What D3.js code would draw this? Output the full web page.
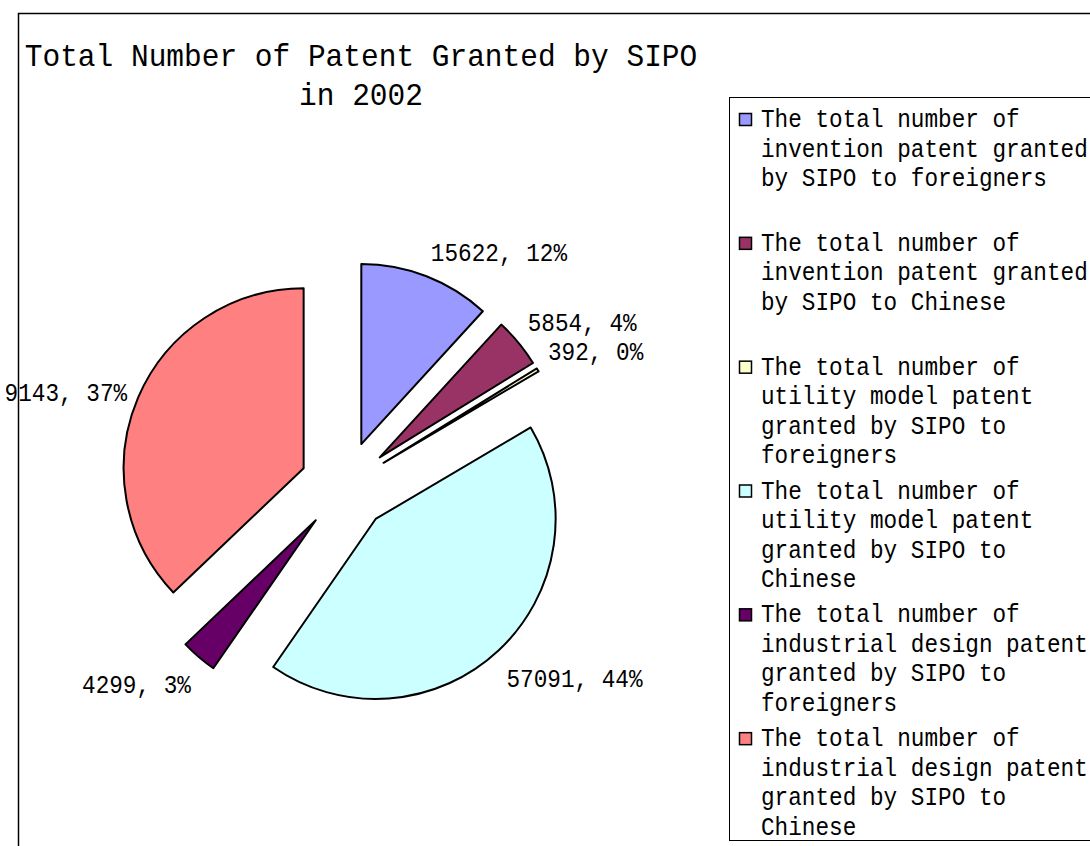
<!DOCTYPE html>
<html>
<head>
<meta charset="utf-8">
<script src="https://cdn.jsdelivr.net/npm/d3@7"></script>
<style>
  html, body { margin: 0; padding: 0; background: #fff; overflow: hidden; }
  svg { display: block; }
  text { font-family: "Liberation Mono", "DejaVu Sans Mono", monospace; fill: #000; }
</style>
</head>
<body>
<svg id="chart" width="1090" height="846"></svg>
<script>
// series
var categories = [
  "The total number of invention patent granted by SIPO to foreigners",
  "The total number of invention patent granted by SIPO to Chinese",
  "The total number of utility model patent granted by SIPO to foreigners",
  "The total number of utility model patent granted by SIPO to Chinese",
  "The total number of industrial design patent granted by SIPO to foreigners",
  "The total number of industrial design patent granted by SIPO to Chinese"
];
var values = [15622, 5854, 392, 57091, 4299, 49143];
var percentLabels = ["12%", "4%", "0%", "44%", "3%", "37%"];
var colors = ["#9999FF", "#993366", "#FFFFCC", "#CCFFFF", "#660066", "#FF8080"];
var titleLines = ["Total Number of Patent Granted by SIPO", "in 2002"];

var svg = d3.select("#chart");
var stretch = 1.15; // the original font is taller than Liberation Mono

svg.append("defs").append("clipPath").attr("id", "plotClip")
  .append("rect").attr("x", 6).attr("y", 0).attr("width", 1100).attr("height", 900);

// chart area border (runs off the page on the right / bottom)
svg.append("rect")
  .attr("x", 18.5).attr("y", 13.5)
  .attr("width", 1200).attr("height", 1000)
  .attr("fill", "#fff").attr("stroke", "#000").attr("stroke-width", 1.5);

// title
svg.append("g").selectAll("text")
  .data(titleLines)
  .join("text")
  .attr("transform", function(d, i) { return "translate(361," + (66 + i * 39) + ") scale(1,1.05)"; })
  .attr("text-anchor", "middle")
  .style("font-size", "29.5px")
  .text(function(d) { return d; });

// pie
var cx = 345, cy = 486, radius = 180, explode = 45;

var pie = d3.pie().sort(null).value(function(d) { return d; });
var arcs = pie(values);
var arc = d3.arc().innerRadius(0).outerRadius(radius);

function dir(a) {
  var m = (a.startAngle + a.endAngle) / 2;
  return [Math.sin(m), -Math.cos(m)];
}

var outer = svg.append("g").attr("clip-path", "url(#plotClip)");
var pieG = outer.append("g").attr("transform", "translate(" + cx + "," + cy + ")");

pieG.selectAll("path")
  .data(arcs)
  .join("path")
  .attr("transform", function(d) {
    var v = dir(d);
    return "translate(" + (v[0] * explode) + "," + (v[1] * explode) + ")";
  })
  .attr("d", arc)
  .attr("fill", function(d, i) { return colors[i]; })
  .attr("stroke", "#000")
  .attr("stroke-width", 2)
  .attr("stroke-linejoin", "round");

// data labels, placed just outside each exploded slice
var fmt = d3.format("d");
pieG.selectAll("text.lbl")
  .data(arcs)
  .join("text")
  .attr("class", "lbl")
  .style("font-size", "22.7px")
  .attr("text-anchor", function(d) { return dir(d)[0] >= 0 ? "start" : "end"; })
  .attr("transform", function(d) {
    var v = dir(d);
    var px = v[0] * (explode + radius + 12);
    var py = v[1] * (explode + radius + 12);
    var off = v[1] > 0 ? 19 : (v[1] < -0.45 ? -12 : 0);
    return "translate(" + px + "," + (py + off + 8) + ") scale(1," + stretch + ")";
  })
  .text(function(d, i) { return fmt(d.data) + ", " + percentLabels[i]; });

// legend
var lgX = 729, lgY = 97, lgH = 743;
var slot = lgH / categories.length;
var lineH = 29.5;

function wrap(s, maxChars) {
  var words = s.split(" "), lines = [], cur = "";
  words.forEach(function(w) {
    var t = cur ? cur + " " + w : w;
    if (t.length > maxChars && cur) { lines.push(cur); cur = w; }
    else cur = t;
  });
  if (cur) lines.push(cur);
  return lines;
}

svg.append("rect")
  .attr("x", lgX + 0.5).attr("y", lgY + 0.5)
  .attr("width", 400).attr("height", lgH)
  .attr("fill", "#fff").attr("stroke", "#000").attr("stroke-width", 1);

var items = svg.append("g").selectAll("g")
  .data(categories)
  .join("g")
  .attr("transform", function(d, i) { return "translate(" + lgX + "," + (lgY + i * slot) + ")"; });

items.append("rect")
  .attr("x", 10.5).attr("y", 16.5)
  .attr("width", 12).attr("height", 12)
  .attr("fill", function(d, i) { return colors[i]; })
  .attr("stroke", "#000").attr("stroke-width", 1.5);

items.selectAll("text")
  .data(function(d) { return wrap(d, 24); })
  .join("text")
  .style("font-size", "22.7px")
  .attr("transform", function(d, i) { return "translate(32," + (30 + i * lineH) + ") scale(1," + stretch + ")"; })
  .text(function(d) { return d; });
</script>
</body>
</html>
